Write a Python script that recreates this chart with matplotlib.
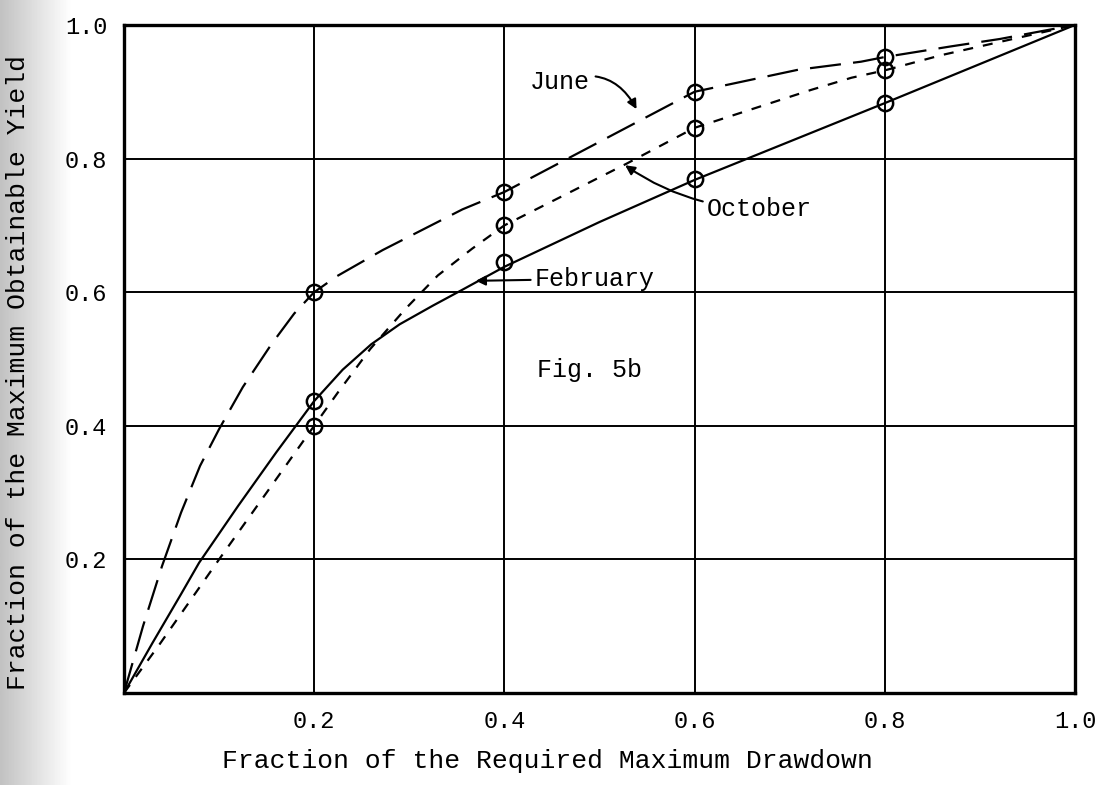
import numpy as np
import matplotlib
matplotlib.use("Agg")
import matplotlib.pyplot as plt

# ---- data ----
# measured points (circles)
pt_x = [0.2, 0.4, 0.6, 0.8]
june_pts = [0.60, 0.75, 0.90, 0.952]
oct_pts = [0.40, 0.70, 0.846, 0.932]
feb_pts = [0.437, 0.645, 0.77, 0.883]

# traced curves
june_x = [0, 0.02, 0.04, 0.06, 0.08, 0.10, 0.125, 0.155, 0.179, 0.2, 0.224, 0.272,
          0.356, 0.4, 0.6, 0.709, 0.775, 0.8, 0.87, 0.921, 0.966, 1.0]
june_y = [0, 0.10, 0.19, 0.27, 0.34, 0.395, 0.458, 0.522, 0.568, 0.6, 0.624, 0.663,
          0.724, 0.75, 0.90, 0.933, 0.945, 0.952, 0.968, 0.979, 0.991, 1.0]

oct_x = [0, 0.037, 0.07, 0.10, 0.156, 0.2, 0.225, 0.259, 0.296, 0.33, 0.366, 0.4,
         0.528, 0.6, 0.723, 0.765, 0.8, 0.86, 1.0]
oct_y = [0, 0.072, 0.139, 0.20, 0.312, 0.40, 0.45, 0.515, 0.575, 0.625, 0.665, 0.70,
         0.792, 0.846, 0.903, 0.921, 0.932, 0.955, 1.0]

feb_x = [0, 0.03, 0.06, 0.079, 0.12, 0.16, 0.2, 0.23, 0.26, 0.29, 0.325, 0.355,
         0.4, 0.5, 0.6, 0.8, 1.0]
feb_y = [0, 0.075, 0.148, 0.195, 0.28, 0.36, 0.437, 0.484, 0.522, 0.552, 0.58, 0.603,
         0.638, 0.705, 0.768, 0.883, 1.0]

ticks = [0.2, 0.4, 0.6, 0.8, 1.0]
tick_labels = ["0.2", "0.4", "0.6", "0.8", "1.0"]

FONT = "Liberation Mono"

fig = plt.figure(figsize=(11.05, 7.85), dpi=100)

# grey screen-tone strip on the left edge of the scan
bg = fig.add_axes([0, 0, 0.065, 1], zorder=-5)
grad = np.linspace(0.76, 1.0, 50)[None, :]
bg.imshow(grad, cmap="gray", vmin=0, vmax=1, aspect="auto", extent=[0, 1, 0, 1])
bg.axis("off")

ax = fig.add_axes([0.1122, 0.1172, 0.8606, 0.851])

ax.plot(june_x, june_y, color="black", lw=1.6, dashes=(14, 5.5), zorder=3)
ax.plot(oct_x, oct_y, color="black", lw=1.6, dashes=(4.5, 4.5), zorder=3)
ax.plot(feb_x, feb_y, color="black", lw=1.6, zorder=3)

for vals in (june_pts, oct_pts, feb_pts):
    ax.plot(pt_x, vals, ls="none", marker="o", ms=11, mfc="none", mec="black", mew=1.8, zorder=4)

ax.set_xlim(0, 1)
ax.set_ylim(0, 1)
ax.set_xticks(ticks)
ax.set_xticklabels(tick_labels, fontfamily=FONT, fontsize=17)
ax.set_yticks(ticks)
ax.set_yticklabels(tick_labels, fontfamily=FONT, fontsize=17)
ax.tick_params(axis="x", length=0, pad=12)
ax.tick_params(axis="y", length=0, pad=12)
ax.grid(True, color="black", lw=1.4)
ax.set_axisbelow(True)
for s in ax.spines.values():
    s.set_linewidth(2.4)

# labels
fig.text(0.495, 0.031, "Fraction of the Required Maximum Drawdown",
         ha="center", va="center", fontfamily=FONT, fontsize=19)
fig.text(0.0165, 0.526, "Fraction of the Maximum Obtainable Yield",
         ha="center", va="center", rotation=90, fontfamily=FONT, fontsize=19)

# annotations
ax.annotate("June", xy=(0.539, 0.874), xytext=(0.427, 0.914),
            ha="left", va="center", fontfamily=FONT, fontsize=18,
            arrowprops=dict(arrowstyle="-|>", color="black", lw=1.5, mutation_scale=14,
                            connectionstyle="arc3,rad=-0.45", shrinkA=2, shrinkB=0))
ax.annotate("October", xy=(0.527, 0.79), xytext=(0.613, 0.724),
            ha="left", va="center", fontfamily=FONT, fontsize=18,
            arrowprops=dict(arrowstyle="-|>", color="black", lw=1.5, mutation_scale=14,
                            connectionstyle="arc3,rad=-0.15", shrinkA=1, shrinkB=0))
ax.annotate("February", xy=(0.37, 0.617), xytext=(0.432, 0.62),
            ha="left", va="center", fontfamily=FONT, fontsize=18,
            arrowprops=dict(arrowstyle="-|>", color="black", lw=1.5, mutation_scale=14,
                            shrinkA=1, shrinkB=0))
ax.text(0.434, 0.483, "Fig. 5b", ha="left", va="center", fontfamily=FONT, fontsize=18)

fig.savefig("out.png", dpi=100)
